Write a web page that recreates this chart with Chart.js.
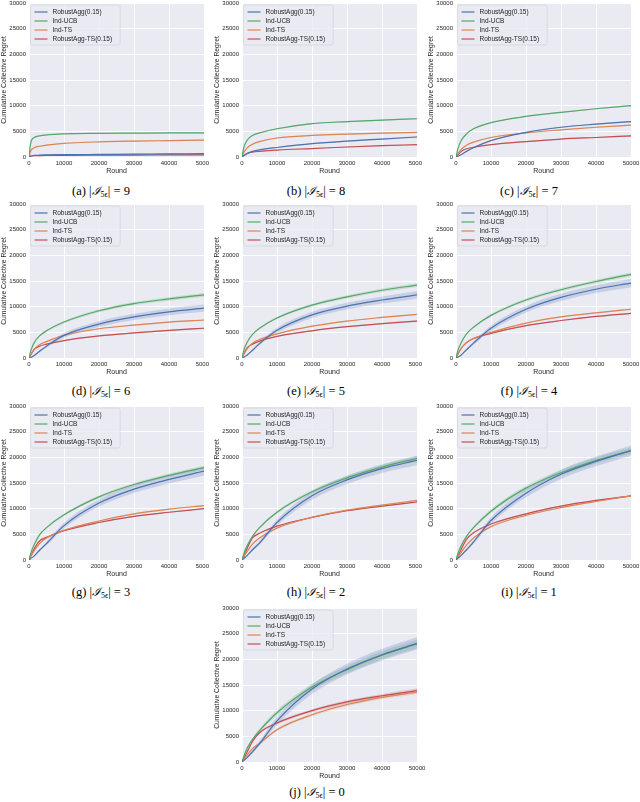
<!DOCTYPE html>
<html>
<head>
<meta charset="utf-8">
<script src="https://cdn.jsdelivr.net/npm/chart.js@4.4.1/dist/chart.umd.min.js"></script>
<style>
  body { margin: 0; background: #fff; width: 640px; height: 802px; position: relative; overflow: hidden; }
  .cap { position: absolute; font-family: "Liberation Serif", "DejaVu Serif", serif; font-size: 12.5px; color: #000;
         white-space: nowrap; transform: translate(-50%, -50%); line-height: 1; }
  .cap sub { font-size: 8px; vertical-align: -2px; }
  .cap .I { font-family: "DejaVu Serif", serif; font-style: italic; font-size: 11.5px; }
</style>
</head>
<body>
<script>
const rounds = [0, 500, 1500, 3000, 5000, 10000, 20000, 30000, 40000, 50000];
const roundTicks = [0, 10000, 20000, 30000, 40000, 50000];
const regretTicks = [0, 5000, 10000, 15000, 20000, 25000, 30000];

const seriesNames = ['RobustAgg(0.15)', 'Ind-UCB', 'Ind-TS', 'RobustAgg-TS(0.15)'];
const seriesColors = ['#4C72B0', '#55A868', '#DD8452', '#C44E52'];

const panelLetters = ['a', 'b', 'c', 'd', 'e', 'f', 'g', 'h', 'i', 'j'];
const corruptedCounts = [9, 8, 7, 6, 5, 4, 3, 2, 1, 0];

// (a)
const a_robustAgg   = [0, 200, 300, 350, 400, 450, 500, 550, 600, 650];
const a_indUcb      = [0, 2800, 3800, 4100, 4300, 4500, 4600, 4650, 4700, 4700];
const a_indTs       = [0, 1200, 1800, 2100, 2300, 2650, 2950, 3100, 3200, 3300];
const a_robustAggTs = [0, 150, 250, 280, 300, 330, 360, 380, 400, 420];
// (b)
const b_robustAgg   = [0, 250, 700, 1100, 1400, 1850, 2600, 3100, 3500, 3900];
const b_indUcb      = [0, 1800, 3300, 4200, 4700, 5500, 6500, 6900, 7200, 7450];
const b_indTs       = [0, 900, 1800, 2500, 3000, 3700, 4200, 4450, 4650, 4800];
const b_robustAggTs = [0, 300, 700, 950, 1100, 1350, 1650, 1950, 2200, 2400];
// (c)
const c_robustAgg   = [0, 150, 500, 1100, 1800, 3200, 4800, 5800, 6400, 6900];
const c_indUcb      = [0, 1500, 3200, 4500, 5500, 6700, 7900, 8700, 9400, 10000];
const c_indTs       = [0, 600, 1500, 2300, 2900, 3800, 4700, 5300, 5800, 6200];
const c_robustAggTs = [0, 400, 1100, 1600, 1900, 2400, 3000, 3500, 3800, 4100];
// (d)
const d_robustAgg   = [0, 100, 500, 1300, 2300, 4400, 6600, 8000, 9000, 9700];
const d_indUcb      = [0, 1400, 3000, 4300, 5300, 7000, 9200, 10600, 11500, 12300];
const d_indTs       = [0, 600, 1700, 2600, 3200, 4400, 5700, 6400, 7000, 7400];
const d_robustAggTs = [0, 600, 1700, 2300, 2700, 3400, 4300, 4900, 5400, 5800];
// (e)
const e_robustAgg   = [0, 150, 600, 1500, 2800, 5400, 8400, 10100, 11300, 12300];
const e_indUcb      = [0, 1500, 3100, 4600, 5800, 7800, 10300, 11900, 13200, 14200];
const e_indTs       = [0, 700, 1800, 2900, 3600, 4700, 6200, 7200, 7900, 8500];
const e_robustAggTs = [0, 800, 2000, 2700, 3300, 4200, 5300, 6100, 6700, 7200];
// (f)
const f_robustAgg   = [0, 150, 600, 1600, 2900, 5800, 9500, 11800, 13400, 14600];
const f_indUcb      = [0, 1400, 3000, 4700, 6000, 8300, 11300, 13300, 14900, 16300];
const f_indTs       = [0, 700, 1900, 3000, 3800, 5000, 6800, 8000, 8800, 9500];
const f_robustAggTs = [0, 700, 1900, 3000, 3800, 4800, 6300, 7300, 8100, 8700];
// (g)
const g_robustAgg   = [0, 300, 800, 1900, 3200, 6700, 11100, 13800, 15700, 17300];
const g_indUcb      = [0, 1300, 3000, 4900, 6300, 8800, 12300, 14700, 16500, 18000];
const g_indTs       = [0, 700, 1800, 3200, 4300, 5800, 7600, 9000, 9900, 10600];
const g_robustAggTs = [0, 800, 2200, 3700, 4400, 5700, 7300, 8500, 9300, 10000];
// (h)
const h_robustAgg   = [0, 300, 900, 2000, 3300, 7300, 12500, 15600, 17800, 19400];
const h_indUcb      = [0, 1200, 2800, 4600, 6300, 9300, 13300, 16000, 18100, 19800];
const h_indTs       = [0, 600, 1700, 3100, 4300, 6200, 8300, 9700, 10700, 11600];
const h_robustAggTs = [0, 800, 2300, 4300, 5200, 6600, 8300, 9600, 10500, 11300];
// (i)
const i_robustAgg   = [0, 300, 900, 2000, 3500, 7700, 13000, 16700, 19200, 21300];
const i_indUcb      = [0, 1200, 2800, 4600, 6300, 9500, 14000, 17000, 19400, 21300];
const i_indTs       = [0, 500, 1500, 2900, 4300, 6500, 8700, 10200, 11400, 12500];
const i_robustAggTs = [0, 700, 2100, 4000, 5300, 7000, 9000, 10500, 11600, 12500];
// (j)
const j_robustAgg   = [0, 300, 900, 2000, 3600, 8000, 14200, 18100, 20900, 23100];
const j_indUcb      = [0, 1100, 2700, 4400, 6100, 9600, 14600, 18000, 20800, 23000];
const j_indTs       = [0, 500, 1400, 2600, 3600, 6300, 9200, 11200, 12600, 13600];
const j_robustAggTs = [0, 700, 2000, 4000, 5700, 7600, 10000, 11700, 12900, 13900];

// half widths of the shaded bands
const thinBand  = [0, 30, 50, 60, 70, 80, 100, 110, 120, 130];
const ucbBand   = [0, 40, 80, 120, 160, 220, 280, 320, 350, 380];
const d_robustBand = [0, 40, 100, 200, 300, 450, 550, 600, 650, 700];
const e_robustBand = [0, 40, 100, 200, 300, 500, 600, 650, 700, 750];
const f_robustBand = [0, 40, 100, 200, 350, 550, 650, 700, 750, 800];
const g_robustBand = [0, 40, 100, 220, 350, 550, 700, 750, 800, 850];
const h_robustBand = [0, 50, 120, 250, 400, 600, 750, 800, 850, 900];
const i_robustBand = [0, 50, 120, 250, 400, 650, 800, 900, 950, 1000];
const j_robustBand = [0, 60, 150, 300, 450, 750, 950, 1050, 1150, 1200];
const h_ucbBand = [0, 50, 100, 160, 220, 300, 360, 400, 430, 450];
const i_ucbBand = [0, 60, 120, 200, 280, 400, 480, 540, 580, 600];
const j_ucbBand = [0, 80, 160, 260, 360, 520, 650, 720, 780, 800];
const j_tsBand  = [0, 40, 80, 130, 180, 250, 300, 340, 370, 400];

const panelSeries = [
  [a_robustAgg, a_indUcb, a_indTs, a_robustAggTs],
  [b_robustAgg, b_indUcb, b_indTs, b_robustAggTs],
  [c_robustAgg, c_indUcb, c_indTs, c_robustAggTs],
  [d_robustAgg, d_indUcb, d_indTs, d_robustAggTs],
  [e_robustAgg, e_indUcb, e_indTs, e_robustAggTs],
  [f_robustAgg, f_indUcb, f_indTs, f_robustAggTs],
  [g_robustAgg, g_indUcb, g_indTs, g_robustAggTs],
  [h_robustAgg, h_indUcb, h_indTs, h_robustAggTs],
  [i_robustAgg, i_indUcb, i_indTs, i_robustAggTs],
  [j_robustAgg, j_indUcb, j_indTs, j_robustAggTs]
];
const panelBands = [
  [thinBand, thinBand, thinBand, thinBand],
  [thinBand, thinBand, thinBand, thinBand],
  [thinBand, thinBand, thinBand, thinBand],
  [d_robustBand, ucbBand, thinBand, thinBand],
  [e_robustBand, ucbBand, thinBand, thinBand],
  [f_robustBand, ucbBand, thinBand, thinBand],
  [g_robustBand, ucbBand, thinBand, thinBand],
  [h_robustBand, h_ucbBand, thinBand, thinBand],
  [i_robustBand, i_ucbBand, thinBand, thinBand],
  [j_robustBand, j_ucbBand, j_tsBand, j_tsBand]
];

// where each plot area sits on the page
const boxes = [
  { left: 29,  top: 3,   padR: 5,  capX: 101, capY: 192 },
  { left: 242, top: 3,   padR: 5,  capX: 316, capY: 192 },
  { left: 456, top: 3,   padR: 9,  capX: 529, capY: 192 },
  { left: 29,  top: 204, padR: 5,  capX: 101, capY: 392 },
  { left: 242, top: 204, padR: 5,  capX: 316, capY: 392 },
  { left: 456, top: 204, padR: 9,  capX: 529, capY: 392 },
  { left: 29,  top: 406, padR: 5,  capX: 101, capY: 593 },
  { left: 242, top: 406, padR: 5,  capX: 316, capY: 593 },
  { left: 456, top: 406, padR: 9,  capX: 529, capY: 593 },
  { left: 242, top: 608, padR: 13, capX: 317, capY: 793 }
];

Chart.defaults.font.family = '"Liberation Sans", Arial, sans-serif';
Chart.defaults.color = '#262626';

function rgba(hex, a) {
  const n = parseInt(hex.slice(1), 16);
  return `rgba(${n >> 16},${(n >> 8) & 255},${n & 255},${a})`;
}

const bgPlugin = {
  id: 'bg',
  beforeDraw(chart) {
    const { ctx, chartArea: a } = chart;
    ctx.save();
    ctx.fillStyle = '#EAEAF2';
    ctx.fillRect(a.left, a.top, a.right - a.left, a.bottom - a.top);
    ctx.restore();
  }
};

// legend drawn inside the axes, upper left, like matplotlib
const innerLegend = {
  id: 'innerLegend',
  afterDraw(chart) {
    const { ctx, chartArea: a } = chart;
    ctx.save();
    ctx.font = '6.5px "Liberation Sans", Arial, sans-serif';
    let tw = 0;
    seriesNames.forEach(n => { tw = Math.max(tw, ctx.measureText(n).width); });
    const x0 = a.left + 1.5, y0 = a.top + 2;
    const w = tw + 30, h = 40;
    ctx.fillStyle = 'rgba(234,234,242,0.8)';
    ctx.strokeStyle = '#cfcfd6';
    ctx.lineWidth = 0.6;
    ctx.beginPath();
    ctx.roundRect(x0, y0, w, h, 2);
    ctx.fill();
    ctx.stroke();
    seriesNames.forEach((n, i) => {
      const y = y0 + 7 + i * 9;
      ctx.strokeStyle = seriesColors[i];
      ctx.lineWidth = 1.2;
      ctx.beginPath();
      ctx.moveTo(x0 + 4, y);
      ctx.lineTo(x0 + 17, y);
      ctx.stroke();
      ctx.fillStyle = '#262626';
      ctx.textBaseline = 'middle';
      ctx.fillText(n, x0 + 22, y + 0.5);
    });
    ctx.restore();
  }
};

panelLetters.forEach((letter, p) => {
  const box = boxes[p];
  const W = 29 + 175 + box.padR, H = 175;
  const canvas = document.createElement('canvas');
  canvas.width = W;
  canvas.height = H;
  canvas.style.cssText = `position:absolute;left:${box.left - 29}px;top:${box.top - 3}px;width:${W}px;height:${H}px;`;
  document.body.appendChild(canvas);

  const datasets = [];
  seriesNames.forEach((name, s) => {
    const vals = panelSeries[p][s];
    const band = panelBands[p][s];
    const common = { pointRadius: 0, cubicInterpolationMode: 'monotone' };
    datasets.push(Object.assign({
      data: rounds.map((r, i) => ({ x: r, y: Math.max(0, vals[i] - band[i]) })),
      borderWidth: 0, fill: false
    }, common));
    datasets.push(Object.assign({
      data: rounds.map((r, i) => ({ x: r, y: vals[i] + band[i] })),
      borderWidth: 0, fill: '-1', backgroundColor: rgba(seriesColors[s], 0.22)
    }, common));
    datasets.push(Object.assign({
      label: name,
      data: rounds.map((r, i) => ({ x: r, y: vals[i] })),
      borderColor: seriesColors[s], borderWidth: 1.2, fill: false
    }, common));
  });

  new Chart(canvas, {
    type: 'line',
    data: { datasets },
    plugins: [bgPlugin, innerLegend],
    options: {
      responsive: false,
      animation: false,
      events: [],
      layout: { padding: { left: 0, top: 3, right: box.padR, bottom: 0 } },
      plugins: {
        legend: { display: false },
        tooltip: { enabled: false },
        filler: { drawTime: 'beforeDatasetsDraw' }
      },
      scales: {
        x: {
          type: 'linear', min: 0, max: 50000,
          afterBuildTicks: sc => { sc.ticks = roundTicks.map(v => ({ value: v })); },
          ticks: { font: { size: 6 }, padding: 3, maxRotation: 0, autoSkip: false, callback: v => String(v) },
          grid: { color: '#ffffff', lineWidth: 0.9, drawTicks: false },
          border: { display: false },
          title: { display: true, text: 'Round', font: { size: 7 }, padding: 0 },
          afterFit: sc => { sc.height = 18; sc.paddingLeft = 0; sc.paddingRight = 0; }
        },
        y: {
          type: 'linear', min: 0, max: 30000,
          afterBuildTicks: sc => { sc.ticks = regretTicks.map(v => ({ value: v })); },
          ticks: { font: { size: 6 }, padding: 3, autoSkip: false, callback: v => String(v) },
          grid: { color: '#ffffff', lineWidth: 0.9, drawTicks: false },
          border: { display: false },
          title: { display: true, text: 'Cumulative Collective Regret', font: { size: 6.8 }, padding: 0 },
          afterFit: sc => { sc.width = 29; sc.paddingTop = 0; sc.paddingBottom = 0; }
        }
      }
    }
  });

  const cap = document.createElement('div');
  cap.className = 'cap';
  cap.style.left = box.capX + 'px';
  cap.style.top = box.capY + 'px';
  cap.innerHTML = `(${letter}) |<span class="I">ℐ</span><sub>5ϵ</sub>| = ${corruptedCounts[p]}`;
  document.body.appendChild(cap);
});
</script>
</body>
</html>
